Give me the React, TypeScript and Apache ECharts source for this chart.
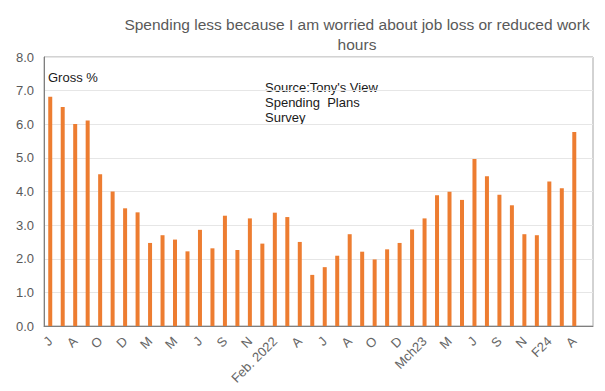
import React, { useEffect, useRef } from "react";
import * as echarts from "echarts";

const categories: string[] = [
  "J", "", "A", "", "O", "", "D", "", "M", "", "M", "", "J", "", "S", "", "N", "",
  "Feb. 2022", "", "A", "", "J", "", "A", "", "O", "", "D", "", "Mch23", "", "M", "",
  "J", "", "S", "", "N", "", "F24", "", "A", "",
];

const grossValues: (number | null)[] = [
  6.82, 6.51, 6.01, 6.11, 4.51, 4.0, 3.5, 3.38, 2.47, 2.7, 2.57, 2.22, 2.86, 2.31,
  3.28, 2.26, 3.2, 2.45, 3.37, 3.24, 2.5, 1.52, 1.75, 2.09, 2.73, 2.21, 1.98, 2.28,
  2.47, 2.87, 3.2, 3.89, 3.99, 3.75, 4.97, 4.45, 3.9, 3.59, 2.73, 2.7, 4.3, 4.1,
  5.77, null,
];

const titleText = "Spending less because I am worried about job loss or reduced work\nhours";
const seriesLabel = "Gross %";
const sourceText = "Source:Tony's View\nSpending  Plans\nSurvey";

const FONT = "Liberation Sans, Arial, sans-serif";

export default function App() {
  const ref = useRef<HTMLDivElement>(null);
  useEffect(() => {
    if (!ref.current) return;
    const chart = echarts.init(ref.current, null, { renderer: "svg" });
    chart.setOption({
      animation: false,
      textStyle: { fontFamily: FONT },
      title: {
        text: titleText,
        left: 352,
        textAlign: "center",
        top: 9,
        textStyle: {
          fontSize: 15.5,
          fontWeight: "normal",
          color: "#595959",
          lineHeight: 20,
          fontFamily: FONT,
        },
      },
      grid: {
        left: 44,
        right: 12,
        top: 57,
        bottom: 65,
        show: true,
        borderColor: "#A6A6A6",
        borderWidth: 1,
      },
      xAxis: {
        type: "category",
        data: categories,
        axisLine: { lineStyle: { color: "#7F7F7F" } },
        axisTick: { show: false },
        axisLabel: {
          interval: 1,
          rotate: 45,
          color: "#666666",
          fontSize: 13,
          margin: 13,
        },
      },
      yAxis: {
        type: "value",
        min: 0,
        max: 8,
        interval: 1,
        axisLine: { show: true, lineStyle: { color: "#7F7F7F" } },
        axisTick: { show: false },
        splitLine: { lineStyle: { color: "#E6E6E6" } },
        axisLabel: {
          color: "#595959",
          fontSize: 13,
          margin: 10,
          formatter: (v: number) => v.toFixed(1),
        },
      },
      series: [
        {
          type: "bar",
          name: seriesLabel,
          data: grossValues,
          barWidth: 4,
          itemStyle: { color: "#ED7D31" },
        },
      ],
      graphic: [
        {
          type: "text",
          left: 48,
          top: 71,
          style: { text: seriesLabel, fontSize: 13, fill: "#1a1a1a", fontFamily: FONT },
        },
        {
          type: "text",
          left: 265,
          top: 80,
          style: {
            text: sourceText,
            fontSize: 13,
            lineHeight: 15,
            fill: "#1a1a1a",
            fontFamily: FONT,
          },
        },
      ],
    });
    return () => chart.dispose();
  }, []);
  return (
    <div
      ref={ref}
      style={{ position: "absolute", left: 0, top: 0, width: 605, height: 391 }}
    />
  );
}
